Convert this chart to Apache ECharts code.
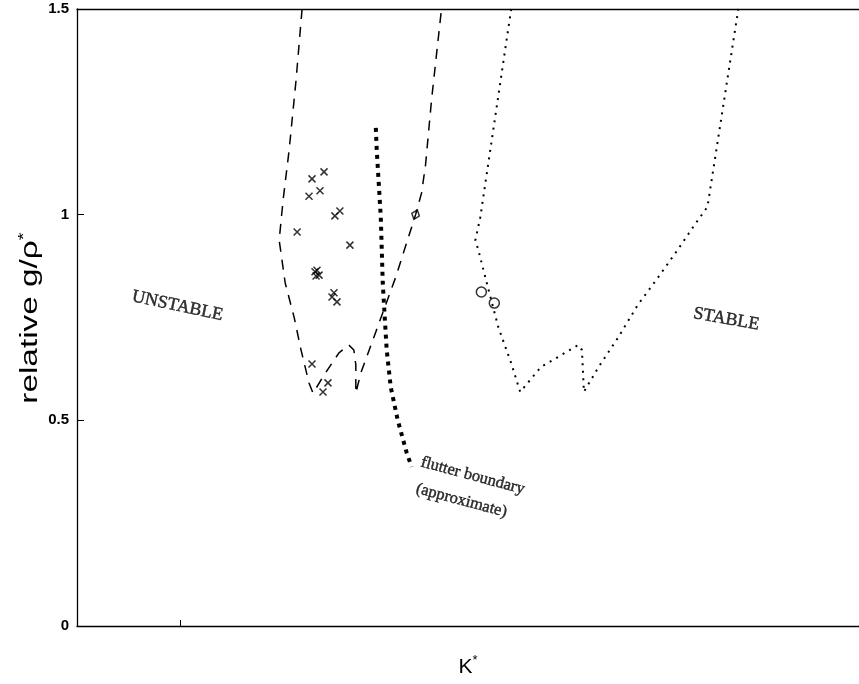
<!DOCTYPE html>
<html>
<head>
<meta charset="utf-8">
<script src="https://cdn.jsdelivr.net/npm/echarts@6/dist/echarts.min.js"></script>
<style>
  html, body { margin: 0; padding: 0; background: #fff; }
  #chart { width: 859px; height: 684px; }
</style>
</head>
<body>
<div id="chart"></div>
<script>
// Boundary of the measured unstable region (dashed): [K*, relative g/rho*]
const unstableBoundary = [
  [2.173, 1.5], [2.115, 1.327], [2.048, 1.157], [1.990, 1.036], [1.952, 0.938],
  [2.010, 0.834], [2.096, 0.751], [2.163, 0.671], [2.240, 0.591], [2.279, 0.566],
  [2.385, 0.610], [2.529, 0.664], [2.625, 0.683], [2.673, 0.671], [2.692, 0.635],
  [2.692, 0.566], [2.740, 0.615], [2.885, 0.715], [3.077, 0.848], [3.269, 1.0],
  [3.327, 1.053], [3.365, 1.121], [3.423, 1.279], [3.519, 1.5]
];

// Boundary of the stable region (dotted)
const stableBoundary = [
  [4.192, 1.5], [3.990, 1.157], [3.894, 0.994], [3.846, 0.938], [3.875, 0.914],
  [3.942, 0.848], [4.067, 0.727], [4.192, 0.639], [4.279, 0.569], [4.481, 0.630],
  [4.644, 0.654], [4.837, 0.683], [4.875, 0.671], [4.894, 0.569], [5.029, 0.627],
  [5.221, 0.700], [5.413, 0.780], [5.606, 0.846], [5.798, 0.914], [5.962, 0.975],
  [6.087, 1.019], [6.385, 1.5]
];

// Approximate flutter boundary (heavy dotted)
const flutterBoundary = [
  [2.885, 1.211], [2.894, 1.157], [2.933, 0.994], [2.952, 0.834], [2.971, 0.751],
  [2.990, 0.671], [3.029, 0.581], [3.096, 0.501], [3.183, 0.421], [3.231, 0.387]
];

// Unstable cases
const unstablePoints = [
  [2.385, 1.104], [2.269, 1.087], [2.346, 1.058], [2.240, 1.045], [2.538, 1.009],
  [2.490, 0.997], [2.125, 0.958], [2.635, 0.926], [2.317, 0.865], [2.337, 0.853],
  [2.308, 0.851], [2.298, 0.861], [2.481, 0.810], [2.462, 0.800], [2.510, 0.788],
  [2.269, 0.637], [2.423, 0.591], [2.375, 0.569]
];

// Marginal case
const marginalPoints = [[3.269, 1.0]];

// Stable cases
const stablePoints = [[3.904, 0.812], [4.029, 0.785]];

// Region annotations: [K*, g/rho*, text, rotation, font size]
const annotations = [
  [0.971, 0.778, 'UNSTABLE', -12, 18],
  [6.269, 0.746, 'STABLE', -10, 18],
  [3.820, 0.365, 'flutter boundary', -15, 16.5],
  [3.712, 0.305, '(approximate)', -15, 16.5]
];

const xTicks = [1];
const yTicks = [0, 0.5, 1, 1.5];

const chart = echarts.init(document.getElementById('chart'), null, { renderer: 'canvas' });

const crossPath = 'path://M0,0L10,10M10,0L0,10';
// solid black serif, slightly thickened with a thin outline
const blackText = { color: '#000', textBorderColor: '#000', textBorderWidth: 0.45, textShadowBlur: 0 };

const option = {
  animation: false,
  backgroundColor: '#ffffff',
  grid: { left: 77, right: -3, top: 9, bottom: 58, containLabel: false },
  xAxis: [
    {
      type: 'value', min: 0, max: 7.55,
      name: 'K{s|*}',
      nameLocation: 'middle',
      nameGap: 28,
      nameTextStyle: {
        fontFamily: 'Liberation Sans', fontSize: 21, color: '#000',
        rich: { s: { fontSize: 13, padding: [0, 0, 14, 0], fontFamily: 'Liberation Sans', color: '#000' } }
      },
      axisLine: { show: true, onZero: false, lineStyle: { color: '#000', width: 1.3 } },
      axisTick: { show: true, inside: true, length: 6, customValues: xTicks, lineStyle: { color: '#000', width: 1 } },
      axisLabel: { show: false },
      splitLine: { show: false }
    },
    {
      type: 'value', min: 0, max: 7.55, position: 'top',
      axisLine: { show: true, onZero: false, lineStyle: { color: '#000', width: 1.3 } },
      axisTick: { show: false },
      axisLabel: { show: false },
      splitLine: { show: false }
    }
  ],
  yAxis: {
    type: 'value', min: 0, max: 1.5, interval: 0.5,
    axisLine: { show: true, onZero: false, lineStyle: { color: '#000', width: 1.3 } },
    axisTick: { show: true, inside: true, length: 7, customValues: yTicks, lineStyle: { color: '#000', width: 1 } },
    axisLabel: {
      customValues: yTicks,
      fontFamily: 'Liberation Sans', fontSize: 15, fontWeight: 'bold', color: '#000', margin: 8,
      formatter: v => String(v)
    },
    splitLine: { show: false }
  },
  // y-axis title, set in a tall, stretched sans face
  graphic: [{
    type: 'text',
    x: 31, y: 318,
    rotation: Math.PI / 2,
    scaleX: 1.45,
    style: {
      text: 'relative g/\u03C1{s|*}',
      fontFamily: 'Liberation Sans', fontSize: 23, fill: '#000',
      align: 'center', verticalAlign: 'middle',
      rich: { s: { fontSize: 14, padding: [0, 0, 14, 0], fontFamily: 'Liberation Sans', fill: '#000' } }
    }
  }],
  series: [
    {
      type: 'line', data: unstableBoundary, symbol: 'none', smooth: false,
      lineStyle: { color: '#000', width: 1.5, type: [10, 8] }
    },
    {
      type: 'line', data: stableBoundary, symbol: 'none',
      lineStyle: { color: '#000', width: 2, type: [2, 5.5] }
    },
    {
      type: 'line', data: flutterBoundary, symbol: 'none',
      lineStyle: { color: '#000', width: 4, type: [4, 5] }
    },
    {
      type: 'scatter', data: unstablePoints, symbol: crossPath, symbolSize: 7,
      itemStyle: { color: 'rgba(0,0,0,0)', borderColor: '#000', borderWidth: 1.5 }
    },
    {
      type: 'scatter', data: marginalPoints, symbol: 'diamond', symbolSize: [8, 10], symbolRotate: -20,
      itemStyle: { color: 'rgba(0,0,0,0)', borderColor: '#000', borderWidth: 1.5 }
    },
    {
      type: 'scatter', data: stablePoints, symbol: 'circle', symbolSize: 10,
      itemStyle: { color: 'rgba(0,0,0,0)', borderColor: '#000', borderWidth: 1.5 }
    },
    {
      // text annotations placed in data coordinates
      type: 'scatter', silent: true, symbol: 'circle', symbolSize: 1,
      itemStyle: { color: 'rgba(0,0,0,0)' },
      data: annotations.map(a => ({
        value: [a[0], a[1]], name: a[2],
        label: Object.assign({ rotate: a[3], fontSize: a[4] }, blackText)
      })),
      label: Object.assign({
        show: true, position: 'inside',
        fontFamily: 'Liberation Serif',
        formatter: p => p.name
      }, blackText)
    }
  ]
};

chart.setOption(option);
</script>
</body>
</html>
